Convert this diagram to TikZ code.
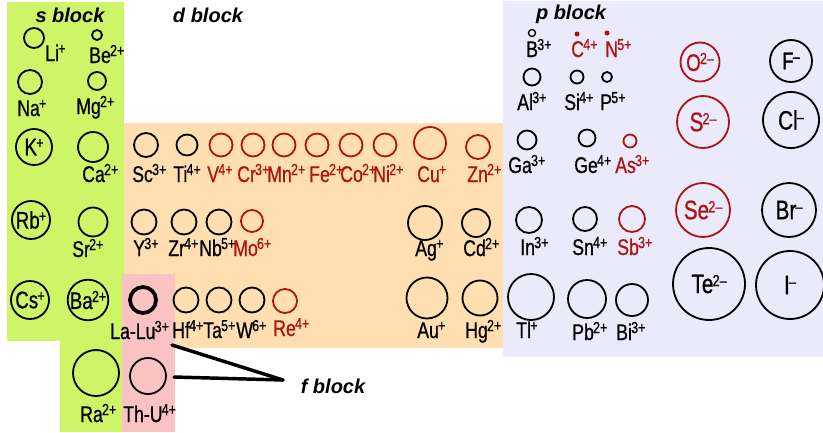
\documentclass[tikz,border=0pt]{standalone}
\usepackage{fontspec}
\setmainfont{Liberation Sans}
\newfontfamily\labfont[FakeStretch=0.78,FakeBold=0.7]{Liberation Sans}
\definecolor{sgreen}{RGB}{206,245,104}
\definecolor{dorange}{RGB}{255,223,178}
\definecolor{fpink}{RGB}{250,194,194}
\definecolor{plav}{RGB}{234,234,251}
\definecolor{dred}{RGB}{172,20,20}
% ionic charge written as a raised small label
\newcommand\chg[1]{\kern-0.6pt\raisebox{5.2pt}{\fontsize{12}{12}\selectfont #1}}
\begin{document}
\begin{tikzpicture}[x=0.75pt,y=-0.75pt,
  ion/.style={circle,draw=black,line width=1.35pt,inner sep=0pt,
    minimum size=#1*1.5pt,font=\labfont\fontsize{18}{18}\selectfont},
  rion/.style={ion=#1,draw=dred,text=dred},
  big/.style={font=\labfont\fontsize{20}{20}\selectfont},
  dotion/.style={circle,fill=dred,inner sep=0pt,minimum size=#1*1.5pt},
  lab/.style={anchor=base west,inner sep=0pt,font=\labfont\fontsize{17}{17}\selectfont},
  rlab/.style={lab,text=dred},
  head/.style={inner sep=0pt,font=\bfseries\itshape\fontsize{15}{15}\selectfont},
  fline/.style={line width=2.6pt,line cap=round}]
\useasboundingbox (0,0) rectangle (823,432);

% block backgrounds
\fill[plav] (503,1) rectangle (823,357);
\fill[dorange] (124,123) rectangle (503,348);
\fill[sgreen] (7,2) rectangle (124,341);
\fill[sgreen] (60,341) rectangle (124,432);
\fill[fpink] (122,274) rectangle (175,432);

% headings
\node[head] (sh) at (70,15) {s block};
\node[head] (dh) at (208,15) {d block};
\node[head] (ph) at (571,14) {p block};
\node[head] (fh) at (333,386) {f block};

% s block
\node[ion=10] (li) at (34,38) {};
\node[lab] (lil) at (45,61) {Li\chg{+}};
\node[ion=5] (be) at (97,35) {};
\node[lab] (bel) at (89,63) {Be\chg{2+}};
\node[ion=12] (na) at (30,82) {};
\node[lab] (nal) at (17,116) {Na\chg{+}};
\node[ion=9] (mg) at (97,81) {};
\node[lab] (mgl) at (76,114) {Mg\chg{2+}};
\node[ion=18] (k) at (34,147) {K\chg{+}};
\node[ion=15] (ca) at (93,147) {};
\node[lab] (cal) at (82,182) {Ca\chg{2+}};
\node[ion=19] (rb) at (31,220) {Rb\chg{+}};
\node[ion=14.5] (sr) at (93,222) {};
\node[lab] (srl) at (72,257) {Sr\chg{2+}};
\node[ion=19] (cs) at (30,300) {Cs\chg{+}};
\node[ion=19] (ba) at (88,300) {Ba\chg{2+}};
\node[ion=23] (ra) at (96,373) {};
\node[lab] (ral) at (80,422) {Ra\chg{2+}};

% f block
\node[ion=13,line width=2.8pt] (lalu) at (143,300) {};
\node[lab] (lalul) at (110,339) {La-Lu\chg{3+}};
\node[ion=18] (thu) at (148,376) {};
\node[lab] (thul) at (123,422) {Th-U\chg{4+}};

% d block, period 4
\node[ion=12] (sc) at (146,145) {};
\node[lab] (scl) at (132,182) {Sc\chg{3+}};
\node[ion=10.5] (ti) at (187,145) {};
\node[lab] (til) at (173,182) {Ti\chg{4+}};
\node[rion=11.5] (v) at (221,145) {};
\node[rlab] (vl) at (207,182) {V\chg{4+}};
\node[rion=11.5] (cr) at (253,145) {};
\node[rlab] (crl) at (237,182) {Cr\chg{3+}};
\node[rion=11.5] (mn) at (284,145) {};
\node[rlab] (mnl) at (267,182) {Mn\chg{2+}};
\node[rion=11.5] (fe) at (317,145) {};
\node[rlab] (fel) at (309,182) {Fe\chg{2+}};
\node[rion=11.5] (co) at (351,145) {};
\node[rlab] (col) at (340,182) {Co\chg{2+}};
\node[rion=11.5] (ni) at (385,145) {};
\node[rlab] (nil) at (373,182) {Ni\chg{2+}};
\node[rion=16] (cu) at (430,143) {};
\node[rlab] (cul) at (417,182) {Cu\chg{+}};
\node[rion=12] (zn) at (478,147) {};
\node[rlab] (znl) at (467,182) {Zn\chg{2+}};

% d block, period 5
\node[ion=12.5] (y) at (144,222) {};
\node[lab] (yl) at (133,256) {Y\chg{3+}};
\node[ion=12.5] (zr) at (184,222) {};
\node[lab] (zrl) at (168,256) {Zr\chg{4+}};
\node[ion=12.5] (nb) at (219,222) {};
\node[lab] (nbl) at (199,256) {Nb\chg{5+}};
\node[rion=11] (mo) at (252,221) {};
\node[rlab] (mol) at (233,256) {Mo\chg{6+}};
\node[ion=17] (ag) at (425,223) {};
\node[lab] (agl) at (415,256) {Ag\chg{+}};
\node[ion=14] (cd) at (476,223) {};
\node[lab] (cdl) at (463,256) {Cd\chg{2+}};

% d block, period 6
\node[ion=12.5] (hf) at (186,300) {};
\node[lab] (hfl) at (172,338) {Hf\chg{4+}};
\node[ion=12.5] (ta) at (219,300) {};
\node[lab] (tal) at (203,338) {Ta\chg{5+}};
\node[ion=12.5] (w) at (252,300) {};
\node[lab] (wl) at (236,338) {W\chg{6+}};
\node[rion=12] (re) at (285,301) {};
\node[rlab] (rel) at (273,336) {Re\chg{4+}};
\node[ion=20.5] (au) at (427,298) {};
\node[lab] (aul) at (417,338) {Au\chg{+}};
\node[ion=17.5] (hg) at (480,298) {};
\node[lab] (hgl) at (465,338) {Hg\chg{2+}};

% p block cations
\node[ion=3.5,line width=1pt] (b) at (532,33) {};
\node[lab] (bl) at (526,57) {B\chg{3+}};
\node[dotion=2.5] (c) at (577,34) {};
\node[rlab] (cl) at (571,57) {C\chg{4+}};
\node[dotion=2.5] (n) at (607,33) {};
\node[rlab] (nl) at (605,57) {N\chg{5+}};
\node[ion=8.5] (al) at (532,77) {};
\node[lab] (all) at (517,110) {Al\chg{3+}};
\node[ion=6.5] (si) at (577,77) {};
\node[lab] (sil) at (564,110) {Si\chg{4+}};
\node[ion=5] (p) at (607,77) {};
\node[lab] (pl) at (600,110) {P\chg{5+}};
\node[ion=9.5] (ga) at (527,140) {};
\node[lab] (gal) at (508,173) {Ga\chg{3+}};
\node[ion=8.5] (ge) at (587,138) {};
\node[lab] (gel) at (574,173) {Ge\chg{4+}};
\node[rion=6.5] (as) at (630,141) {};
\node[rlab] (asl) at (615,173) {As\chg{3+}};
\node[ion=13] (in) at (529,220) {};
\node[lab] (inl) at (520,255) {In\chg{3+}};
\node[ion=12] (sn) at (585,219) {};
\node[lab] (snl) at (572,255) {Sn\chg{4+}};
\node[rion=13] (sb) at (632,219) {};
\node[rlab] (sbl) at (617,255) {Sb\chg{3+}};
\node[ion=23] (tl) at (531,297) {};
\node[lab] (tll) at (516,338) {Tl\chg{+}};
\node[ion=19] (pb) at (587,299) {};
\node[lab] (pbl) at (572,340) {Pb\chg{2+}};
\node[ion=16] (bi) at (632,300) {};
\node[lab] (bil) at (616,340) {Bi\chg{3+}};

% p block anions
\node[rion=19.5] (o) at (700,62) {O\chg{2–}};
\node[ion=21] (f) at (791,61) {F\chg{–}};
\node[rion=26,big] (s) at (703,122) {S\chg{2–}};
\node[ion=28,big] (cli) at (791,120) {Cl\chg{–}};
\node[rion=27,big] (se) at (703,210) {Se\chg{2–}};
\node[ion=27,big] (br) at (789,210) {Br\chg{–}};
\node[ion=36,big] (te) at (709,284) {Te\chg{2–}};
\node[ion=34,big] (io) at (790,285) {I\chg{–}};

% pointers to the f block heading
\coordinate (ftip) at (283,380);
\coordinate (fa) at (172,345);
\coordinate (fb) at (174,377);
\draw[fline] (fa) -- (ftip);
\draw[fline] (fb) -- (ftip);
\end{tikzpicture}
\end{document}
